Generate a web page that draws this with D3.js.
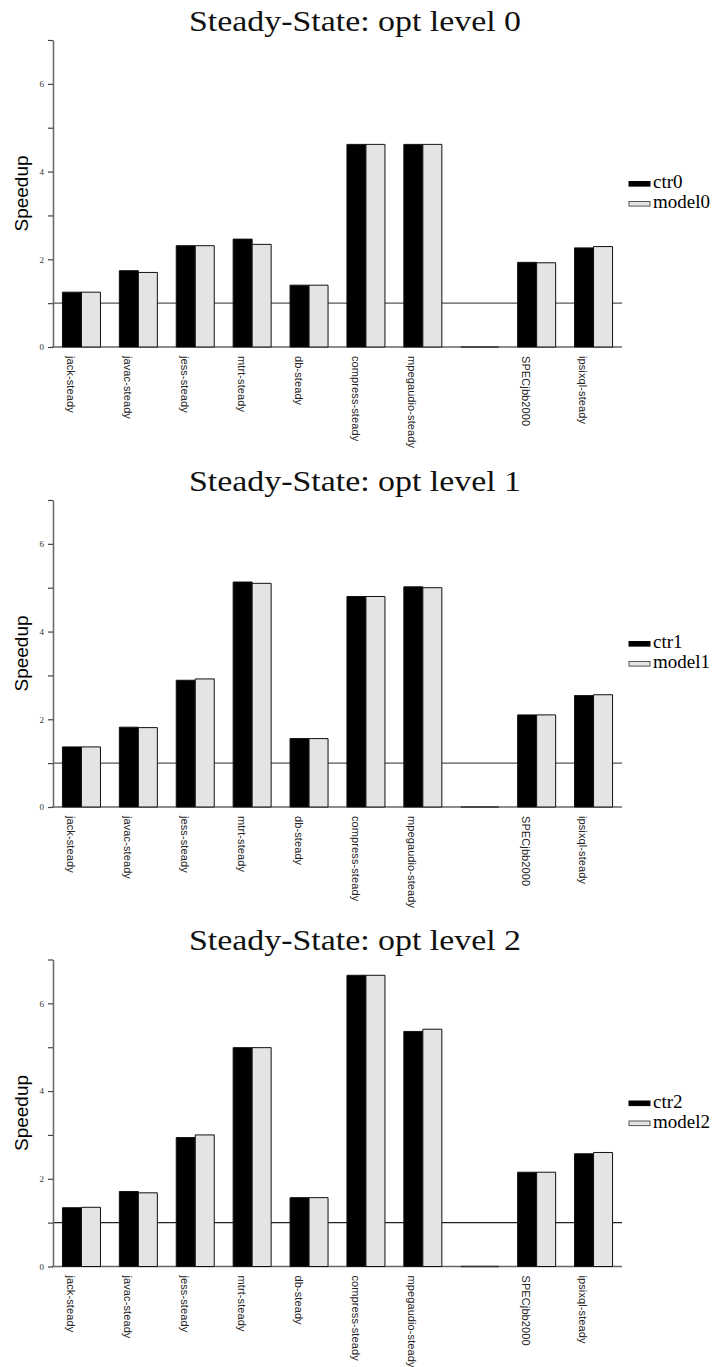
<!DOCTYPE html>
<html>
<head>
<meta charset="utf-8">
<script src="https://cdn.jsdelivr.net/npm/d3@7"></script>
<style>
  html, body { margin: 0; padding: 0; background: #fff; }
  svg { display: block; }
</style>
</head>
<body>
<svg id="chart" width="714" height="1367"></svg>
<script>
// Benchmarks on the x axis (the empty slot separates the SPEC suite from the rest)
const categories = ["jack-steady", "javac-steady", "jess-steady", "mtrt-steady", "db-steady",
  "compress-steady", "mpegaudio-steady", "", "SPECjbb2000", "ipsixql-steady"];

// Steady-state speedups per optimisation level
const ctr0   = [1.25, 1.74, 2.31, 2.46, 1.41, 4.62, 4.62, 0, 1.93, 2.26];
const model0 = [1.25, 1.70, 2.31, 2.34, 1.41, 4.62, 4.62, 0, 1.92, 2.29];
const ctr1   = [1.37, 1.82, 2.89, 5.13, 1.56, 4.80, 5.02, 0, 2.10, 2.54];
const model1 = [1.37, 1.81, 2.92, 5.10, 1.56, 4.80, 5.00, 0, 2.10, 2.56];
const ctr2   = [1.34, 1.71, 2.94, 4.99, 1.57, 6.64, 5.36, 0, 2.15, 2.57];
const model2 = [1.35, 1.68, 3.00, 4.99, 1.57, 6.64, 5.41, 0, 2.15, 2.60];

const titles = ["Steady-State: opt level 0", "Steady-State: opt level 1", "Steady-State: opt level 2"];
const seriesNames = [["ctr0", "model0"], ["ctr1", "model1"], ["ctr2", "model2"]];
const seriesValues = [[ctr0, model0], [ctr1, model1], [ctr2, model2]];
const yTicks = [0, 1, 2, 3, 4, 5, 6, 7];
const baselineValue = 1;

const svg = d3.select("#chart");
const panelOffsets = [0, 460, 919.5];
const plotLeft = 53, plotRight = 622, plotTop = 40, plotBottom = 347;
const fills = ["#000000", "#e4e4e4"];

const x0 = d3.scaleBand()
  .domain(d3.range(categories.length))
  .range([plotLeft, plotRight])
  .paddingInner(0.332)
  .paddingOuter(0.166);
const x1 = d3.scaleBand().domain([0, 1]).range([0, x0.bandwidth()]);
const y = d3.scaleLinear().domain([0, 7]).range([plotBottom, plotTop]);

// bar outline as a path, so a zero-height bar still shows its edge on the baseline
function barPath(x, yTop, w, h) {
  const p = d3.path();
  p.rect(x, yTop, w, h);
  return p.toString();
}

titles.forEach((title, p) => {
  const g = svg.append("g").attr("transform", `translate(0,${panelOffsets[p]})`);

  // title
  g.append("text")
    .attr("x", 355).attr("y", 30.5)
    .attr("text-anchor", "middle")
    .attr("textLength", 332)
    .attr("lengthAdjust", "spacingAndGlyphs")
    .style("font-family", "'Liberation Serif', serif")
    .style("font-size", "29px")
    .attr("fill", "#111")
    .text(title);

  // reference line at speedup 1
  g.append("line")
    .attr("x1", plotLeft).attr("x2", plotRight)
    .attr("y1", y(baselineValue)).attr("y2", y(baselineValue))
    .attr("stroke", p === 2 ? "#222" : "#555").attr("stroke-width", 1.2);

  // x axis baseline
  g.append("line")
    .attr("x1", plotLeft - 1).attr("x2", plotRight)
    .attr("y1", y(0)).attr("y2", y(0))
    .attr("stroke", "#666").attr("stroke-width", 1.5);

  // bars
  const groups = g.selectAll("g.grp")
    .data(categories.map((c, i) => i))
    .join("g").attr("class", "grp")
    .attr("transform", i => `translate(${x0(i)},0)`);

  groups.selectAll("path")
    .data(i => [0, 1].map(s => ({ s, v: seriesValues[p][s][i] })))
    .join("path")
    .attr("d", d => barPath(x1(d.s), y(d.v), x1.bandwidth(), y(0) - y(d.v)))
    .attr("fill", d => fills[d.s])
    .attr("stroke", d => d.v === 0 ? "#333" : "#111")
    .attr("stroke-width", d => d.v === 0 ? 1.6 : 1);

  // y axis
  const yAxis = d3.axisLeft(y)
    .tickValues(yTicks)
    .tickSize(5)
    .tickSizeOuter(0)
    .tickPadding(4)
    .tickFormat(d => (d % 2 === 0 && d < 7) ? d : "");
  const ya = g.append("g").attr("transform", `translate(${plotLeft},0)`).call(yAxis);
  ya.select(".domain").attr("stroke", "#666").attr("stroke-width", 1.5);
  ya.selectAll(".tick line").attr("stroke", "#444").attr("stroke-width", 1.2);
  ya.selectAll(".tick text")
    .style("font-family", "'Liberation Serif', serif")
    .style("font-size", "9px")
    .attr("fill", "#333");

  // category labels
  g.selectAll("text.cat")
    .data(categories.map((c, i) => ({ c, i })))
    .join("text").attr("class", "cat")
    .attr("transform", d => `translate(${x0(d.i) + x1(0) + x1.bandwidth() / 2 - 1},${y(0) + 9}) rotate(90)`)
    .attr("dy", "0.35em")
    .style("font-family", "'Liberation Sans', Arial, sans-serif")
    .style("font-size", "11px")
    .style("letter-spacing", "0.1px")
    .attr("fill", "#222")
    .text(d => d.c);

  // y axis title
  g.append("text")
    .attr("transform", `translate(21,${(y(0) + y(7)) / 2}) rotate(-90)`)
    .attr("text-anchor", "middle")
    .attr("dy", "0.35em")
    .style("font-family", "'Liberation Sans', Arial, sans-serif")
    .style("font-size", "19px")
    .attr("fill", "#000")
    .text("Speedup");

  // legend
  seriesNames[p].forEach((name, s) => {
    const cy = 183.8 + s * 20;
    g.append("rect")
      .attr("x", 629).attr("y", cy - 2.3)
      .attr("width", 21).attr("height", 4.6)
      .attr("fill", fills[s])
      .attr("stroke", s === 0 ? "#000" : "#555").attr("stroke-width", 1);
    g.append("text")
      .attr("x", 653).attr("y", cy + 4.5)
      .style("font-family", "'Liberation Serif', serif")
      .style("font-size", "19px")
      .attr("fill", "#000")
      .text(name);
  });
});
</script>
</body>
</html>
